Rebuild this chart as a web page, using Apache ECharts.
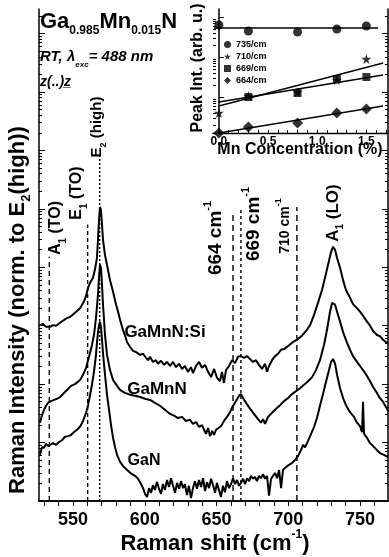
<!DOCTYPE html>
<html>
<head>
<meta charset="utf-8">
<script src="https://cdn.jsdelivr.net/npm/echarts@6/dist/echarts.min.js"></script>
<style>
  html, body { margin: 0; padding: 0; background: #fff; }
  #chart { width: 389px; height: 557px; }
</style>
</head>
<body>
<div id="chart"></div>
<script>
// Raman spectra: [shift (cm-1), log10 intensity] (offset spectra)
var gaMnNSi = [[527.0,3.01],[529.1,3.03],[531.2,2.98],[534.0,2.98],[536.1,3.01],[538.2,3.00],[539.5,3.01],[541.0,3.05],[542.3,3.08],[545.1,3.12],[547.9,3.15],[551.4,3.22],[554.9,3.30],[557.7,3.42],[559.1,3.51],[560.5,3.65],[561.8,3.73],[563.9,3.82],[565.3,3.96],[566.7,4.16],[567.4,4.47],[568.1,4.81],[568.8,5.03],[569.5,4.98],[570.2,4.73],[570.9,4.47],[572.3,4.21],[573.7,4.04],[575.8,3.78],[577.9,3.58],[580.0,3.36],[581.4,3.24],[582.8,3.10],[584.8,2.93],[586.2,2.84],[587.6,2.72],[589.7,2.64],[591.8,2.57],[593.9,2.55],[596.7,2.50],[598.8,2.52],[600.9,2.45],[602.3,2.41],[603.7,2.47],[605.7,2.38],[607.8,2.41],[609.2,2.35],[611.3,2.40],[613.4,2.33],[615.5,2.38],[617.6,2.31],[619.7,2.38],[621.8,2.29],[623.9,2.35],[626.0,2.26],[628.0,2.31],[630.1,2.21],[632.2,2.29],[633.6,2.19],[635.7,2.31],[637.8,2.38],[639.9,2.28],[642.0,2.33],[644.1,2.21],[646.2,2.12],[648.3,2.26],[650.3,2.11],[652.4,2.05],[653.8,2.21],[655.2,2.02],[656.6,2.24],[658.7,2.31],[660.8,2.41],[662.9,2.36],[665.0,2.47],[667.1,2.48],[669.2,2.45],[671.3,2.48],[673.3,2.43],[675.4,2.38],[677.5,2.41],[679.6,2.33],[681.7,2.26],[683.8,2.35],[685.2,2.21],[686.6,2.31],[688.7,2.41],[690.8,2.48],[692.9,2.52],[695.0,2.59],[697.0,2.60],[699.8,2.65],[702.6,2.71],[706.1,2.76],[709.6,2.83],[712.4,2.91],[715.2,3.01],[717.9,3.18],[720.7,3.39],[723.5,3.61],[725.6,3.82],[727.7,4.04],[729.8,4.26],[731.2,4.35],[732.6,4.30],[734.0,4.16],[736.1,3.99],[738.2,3.78],[740.2,3.61],[743.0,3.48],[745.1,3.37],[747.9,3.30],[750.0,3.24],[752.1,3.17],[754.9,3.07],[757.0,3.00],[759.1,2.91],[761.8,2.84],[763.9,2.82],[766.0,2.76],[768.1,2.72],[769.5,2.69]];

var gaMnN = [[527.0,1.34],[528.4,1.47],[529.8,1.56],[531.2,1.63],[532.6,1.68],[534.7,1.71],[536.8,1.73],[538.9,1.75],[541.0,1.78],[543.0,1.83],[545.8,1.90],[548.6,1.97],[551.4,2.00],[554.9,2.07],[557.0,2.16],[559.1,2.28],[560.5,2.41],[561.8,2.53],[563.2,2.67],[564.6,2.84],[566.0,3.13],[567.4,3.53],[568.1,3.82],[568.8,4.04],[569.5,3.99],[570.2,3.70],[570.9,3.36],[572.3,2.84],[573.7,2.50],[575.8,2.24],[577.9,2.07],[580.7,1.97],[582.8,1.90],[586.2,1.85],[589.7,1.82],[593.2,1.80],[596.7,1.78],[600.2,1.75],[603.7,1.73],[607.1,1.68],[610.6,1.63],[614.1,1.56],[617.6,1.49],[620.4,1.46],[623.2,1.42],[626.0,1.44],[628.7,1.37],[631.5,1.39],[633.6,1.32],[635.7,1.35],[637.8,1.27],[639.9,1.30],[641.3,1.22],[642.7,1.15],[644.1,1.25],[645.5,1.11],[646.9,1.20],[648.3,1.13],[649.7,1.22],[651.0,1.25],[653.1,1.28],[655.2,1.37],[657.3,1.44],[659.4,1.52],[661.5,1.63],[663.6,1.71],[665.7,1.80],[667.1,1.83],[668.5,1.76],[670.6,1.68],[673.3,1.58],[676.1,1.49],[678.9,1.40],[681.0,1.34],[682.4,1.40],[683.8,1.32],[685.9,1.44],[688.7,1.51],[691.5,1.58],[694.3,1.64],[697.0,1.71],[699.8,1.76],[702.6,1.83],[705.4,1.88],[708.2,1.93],[711.0,1.99],[713.8,2.05],[716.6,2.12],[719.3,2.24],[722.1,2.41],[724.9,2.67],[727.0,2.93],[729.1,3.24],[730.5,3.39],[731.2,3.41],[732.6,3.36],[734.0,3.24],[736.1,3.07],[738.2,2.89],[740.9,2.71],[743.0,2.59],[745.1,2.48],[747.9,2.38],[750.0,2.31],[752.1,2.24],[754.9,2.14],[757.0,2.05],[759.1,1.95],[761.8,1.85],[763.9,1.76],[766.0,1.70],[768.1,1.61],[769.5,1.54]];

var gaN = [[527.0,0.79],[528.4,0.92],[529.8,0.91],[531.2,0.98],[532.6,0.94],[534.0,0.96],[536.1,0.99],[538.2,0.96],[540.3,1.01],[542.3,1.04],[544.4,1.10],[546.5,1.11],[548.6,1.13],[550.7,1.18],[552.8,1.22],[554.9,1.27],[557.0,1.37],[559.1,1.51],[560.5,1.64],[561.8,1.80],[563.2,1.99],[564.6,2.21],[566.0,2.50],[566.7,2.71],[567.4,2.88],[568.1,3.01],[568.8,3.07],[569.5,2.98],[570.2,2.76],[570.9,2.53],[572.3,2.16],[573.7,1.82],[575.1,1.56],[576.5,1.30],[577.9,1.08],[579.3,0.92],[580.7,0.79],[582.8,0.67],[584.8,0.60],[586.9,0.55],[589.0,0.50],[591.1,0.46],[593.2,0.43],[595.3,0.38],[597.4,0.29],[598.8,0.22],[600.2,0.12],[601.6,0.07],[603.0,0.22],[604.4,0.14],[605.7,0.27],[607.1,0.19],[608.5,0.33],[609.9,0.21],[611.3,0.12],[612.7,0.29],[614.1,0.19],[615.5,0.36],[616.9,0.24],[618.3,0.39],[619.7,0.26],[621.1,0.14],[622.5,0.31],[623.9,0.21],[625.3,0.34],[626.7,0.22],[628.0,0.29],[629.4,0.10],[630.8,0.26],[632.2,0.05],[633.6,0.22],[635.0,0.34],[636.4,0.21],[637.8,0.36],[639.2,0.24],[640.6,0.39],[642.0,0.17],[643.4,0.32],[644.8,0.22],[646.2,0.38],[647.6,0.27],[649.0,0.14],[650.3,0.31],[651.7,0.19],[653.1,0.07],[654.5,0.26],[655.9,0.15],[657.3,0.34],[658.7,0.22],[660.1,0.29],[661.5,0.39],[662.9,0.29],[664.3,0.36],[665.7,0.26],[667.1,0.31],[668.5,0.38],[669.9,0.29],[671.3,0.39],[672.7,0.34],[674.0,0.43],[675.4,0.38],[676.8,0.41],[678.2,0.34],[679.6,0.43],[681.0,0.39],[682.4,0.46],[683.8,0.38],[685.2,0.43],[686.6,0.09],[688.0,0.38],[689.4,0.43],[690.8,0.48],[692.2,0.39],[693.6,0.53],[695.0,0.22],[696.3,0.53],[698.4,0.58],[700.5,0.62],[702.6,0.65],[704.7,0.70],[706.8,0.77],[708.9,0.87],[710.3,0.96],[711.7,0.92],[713.8,1.03],[715.9,1.15],[718.0,1.27],[720.0,1.42],[722.1,1.63],[724.2,1.83],[726.3,2.04],[728.4,2.24],[729.8,2.38],[731.2,2.43],[732.6,2.35],[734.0,2.16],[736.1,1.93],[738.2,1.76],[740.2,1.64],[743.0,1.52],[745.8,1.44],[747.9,1.34],[750.0,1.28],[751.4,1.18],[752.1,1.70],[752.8,1.15],[754.9,1.08],[757.0,0.99],[759.1,0.94],[761.8,0.87],[763.9,0.82],[766.7,0.79],[769.5,0.75]];

// dashed phonon-mode guides: position and top (log10) where the dash stops
var guideShift = [533.5, 560.2, 568.6, 661.5, 667.0, 706.0];
var guideTopLog = [4.18, 4.73, 5.92, 4.93, 5.03, 5.03];

// inset: peak intensity (log10, arb. u.) vs Mn concentration (%)
var mnConc = [0.0, 0.3, 0.8, 1.2, 1.5];
var peak735 = [2.80, 2.65, 2.625, 2.70, 2.775];
var peak710 = [0.60, 1.025, 1.125, 1.425, 1.95];
var mnConc669 = [0.3, 0.8, 1.2, 1.5];
var peak669 = [1.00, 1.10, 1.45, 1.50];
var peak664 = [0.10, 0.25, 0.35, 0.60, 0.70];
// linear fits, end points
var fitConc = [[-0.05, 1.62], [0.0, 1.67], [0.0, 1.67], [0.0, 1.67]];
var fitLog = [[2.725, 2.725], [0.775, 1.85], [0.875, 1.55], [0.10, 0.775]];
var fitNames = ['735/cm', '710/cm', '669/cm', '664/cm'];

var xTicks = [];
for (var t = 530; t <= 760; t += 10) xTicks.push(t);
var xLabels = [550, 600, 650, 700, 750];
var insetTicks = [];
for (var k = 0; k <= 17; k++) insetTicks.push(k / 10);
var insetLabels = [0, 0.5, 1.0, 1.5];

function decadeTicks(lo, hi) {
  var major = [], minor = [];
  for (var n = Math.floor(lo); n <= hi; n++) {
    if (n >= lo) major.push(n);
    for (var m = 2; m <= 9; m++) {
      var v = n + Math.log10(m);
      if (v >= lo && v <= hi) minor.push(v);
    }
  }
  return { major: major, minor: minor };
}
var mainTicks = decadeTicks(0, 8.42);
var insetY = decadeTicks(0.1, 3.2);

var FONT = 'Liberation Sans';
var black = '#000';

function yAx(grid, pos, vals, len, line, lo, hi) {
  return {
    type: 'value', gridIndex: grid, position: pos, min: lo, max: hi,
    axisLine: { show: line, lineStyle: { color: black, width: 1.5 } },
    axisTick: { show: true, inside: true, length: len, customValues: vals, lineStyle: { color: black, width: 1 } },
    axisLabel: { show: false }, splitLine: { show: false }
  };
}

var series = [];
[gaMnNSi, gaMnN, gaN].forEach(function (d, i) {
  series.push({
    type: 'line', name: ['GaMnN:Si', 'GaMnN', 'GaN'][i], data: d,
    xAxisIndex: 0, yAxisIndex: 0, showSymbol: false, z: 5,
    lineStyle: { color: black, width: 2 }
  });
});
var dashes = [[5, 4], [4, 3], [2, 2], [6, 4], [3, 3], [6, 4]];
guideShift.forEach(function (x, i) {
  series.push({
    type: 'line', data: [[x, 0], [x, guideTopLog[i]]],
    xAxisIndex: 0, yAxisIndex: 0, showSymbol: false, z: 3,
    lineStyle: { color: black, width: 1.4, type: dashes[i] }
  });
});
var star = 'path://M50,0 L61,35 L98,35 L68,57 L79,91 L50,70 L21,91 L32,57 L2,35 L39,35 Z';
function zip(a, b) { return a.map(function (v, i) { return [v, b[i]]; }); }
series.push(
  { type: 'scatter', name: '735/cm', data: zip(mnConc, peak735), xAxisIndex: 2, yAxisIndex: 4, symbol: 'circle', symbolSize: 9, itemStyle: { color: black } },
  { type: 'scatter', name: '710/cm', data: zip(mnConc, peak710), xAxisIndex: 2, yAxisIndex: 4, symbol: star, symbolSize: 10, itemStyle: { color: black } },
  { type: 'scatter', name: '669/cm', data: zip(mnConc669, peak669), xAxisIndex: 2, yAxisIndex: 4, symbol: 'rect', symbolSize: 8, itemStyle: { color: black } },
  { type: 'scatter', name: '664/cm', data: zip(mnConc, peak664), xAxisIndex: 2, yAxisIndex: 4, symbol: 'diamond', symbolSize: 11, itemStyle: { color: black } }
);
fitConc.forEach(function (c, i) {
  series.push({
    type: 'line', name: fitNames[i] + ' fit', data: zip(c, fitLog[i]),
    xAxisIndex: 2, yAxisIndex: 4, showSymbol: false,
    lineStyle: { color: black, width: 1.3 }
  });
});

function txt(x, y, text, size, rich, rot, align) {
  return {
    type: 'text', x: x, y: y, rotation: rot || 0, z: 10,
    style: {
      text: text, fill: black, fontFamily: FONT, fontWeight: 'bold', fontSize: size,
      align: align || 'center', verticalAlign: 'middle',
      textAlign: align || 'center', textVerticalAlign: 'middle', rich: rich
    }
  };
}
function subRich(size, subSize, italic) {
  var st = italic ? 'italic' : 'normal';
  return {
    t: { fontSize: size, fontWeight: 'bold', fontStyle: st, fontFamily: FONT, lineHeight: size + 8, verticalAlign: 'middle' },
    s: { fontSize: subSize, fontWeight: 'bold', fontStyle: st, fontFamily: FONT, lineHeight: subSize + 1, verticalAlign: 'bottom' },
    u: { fontSize: subSize, fontWeight: 'bold', fontStyle: st, fontFamily: FONT, lineHeight: subSize + 1, verticalAlign: 'top' }
  };
}
var R = Math.PI / 2;

var option = {
  animation: false,
  backgroundColor: '#fff',
  textStyle: { fontFamily: FONT },
  grid: [
    { left: 39, right: 1, top: 9, bottom: 56 },
    { left: 213, right: 1, top: 9, height: 124 }
  ],
  xAxis: [
    {
      type: 'value', gridIndex: 0, position: 'bottom', min: 526.3, max: 769.5,
      axisLine: { lineStyle: { color: black, width: 1.5 } },
      axisTick: { customValues: xTicks, length: 5, lineStyle: { color: black, width: 1 } },
      axisLabel: { customValues: xLabels, color: black, fontSize: 18, fontWeight: 'bold', margin: 10, fontFamily: FONT },
      splitLine: { show: false }
    },
    {
      type: 'value', gridIndex: 0, position: 'top', min: 526.3, max: 769.5,
      axisLine: { lineStyle: { color: black, width: 1.5 } },
      axisTick: { show: false }, axisLabel: { show: false }, splitLine: { show: false }
    },
    {
      type: 'value', gridIndex: 1, position: 'bottom', min: -0.06, max: 1.72,
      axisLine: { lineStyle: { color: black, width: 1.3 } },
      axisTick: { inside: true, length: 3, customValues: insetTicks, lineStyle: { color: black } },
      axisLabel: { customValues: insetLabels, color: black, fontSize: 12, fontWeight: 'bold', margin: 3,
        formatter: function (v) { return v.toFixed(1); } },
      splitLine: { show: false }
    }
  ],
  yAxis: [
    yAx(0, 'left', mainTicks.major, 6, true, 0, 8.42),
    yAx(0, 'left', mainTicks.minor, 3, false, 0, 8.42),
    yAx(0, 'right', mainTicks.major, 6, true, 0, 8.42),
    yAx(0, 'right', mainTicks.minor, 3, false, 0, 8.42),
    yAx(1, 'left', insetY.major, 5, true, 0.1, 3.2),
    yAx(1, 'left', insetY.minor, 3, false, 0.1, 3.2)
  ],
  legend: {
    data: ['735/cm', '710/cm', '669/cm', '664/cm'],
    orient: 'vertical', left: 219, top: 35, itemWidth: 7, itemHeight: 7, itemGap: 3,
    textStyle: { color: black, fontSize: 9, fontWeight: 'bold', fontFamily: FONT }
  },
  series: series,
  graphic: [
    txt(40, 22, '{t|Ga}{s|0.985}{t|Mn}{s|0.015}{t|N}', 22, subRich(22, 12), 0, 'left'),
    txt(40, 57, '{t|RT, λ}{s|exc}{t|= 488 nm}', 16, subRich(15, 8, true), 0, 'left'),
    txt(40, 82, '{t|z(..)z̲}', 14, subRich(14, 8, true), 0, 'left'),
    txt(18, 310, '{t|Raman Intensity (norm. to E}{s|2}{t|(high))}', 22, subRich(22, 13), R),
    txt(215, 544, '{t|Raman shift (cm}{u|-1}{t|)}', 22, subRich(22, 12), 0),
    txt(198, 68, 'Peak Int. (arb. u.)', 16, null, R),
    txt(300, 150, 'Mn Concentration (%)', 16, null, 0),
    txt(56, 228, '{t|A}{s|1}{t| (TO)}', 16, subRich(16, 10), R),
    txt(77, 193, '{t|E}{s|1}{t| (TO)}', 16, subRich(16, 10), R),
    txt(97, 127, '{t|E}{s|2}{t| (high)}', 15, subRich(15, 9), R),
    txt(216, 238, '{t|664 cm}{u|-1}', 19, subRich(19, 11), R),
    txt(254, 224, '{t|669 cm}{u|-1}', 19, subRich(19, 11), R),
    txt(285, 226, '{t|710 cm}{u|-1}', 14, subRich(14, 9), R),
    txt(333, 213, '{t|A}{s|1}{t| (LO)}', 17, subRich(17, 10), R),
    txt(165, 332, 'GaMnN:Si', 17, null, 0),
    txt(157, 389, 'GaMnN', 17, null, 0),
    txt(144, 461, 'GaN', 16, null, 0)
  ]
};

var chart = echarts.init(document.getElementById('chart'));
chart.setOption(option);
</script>
</body>
</html>
